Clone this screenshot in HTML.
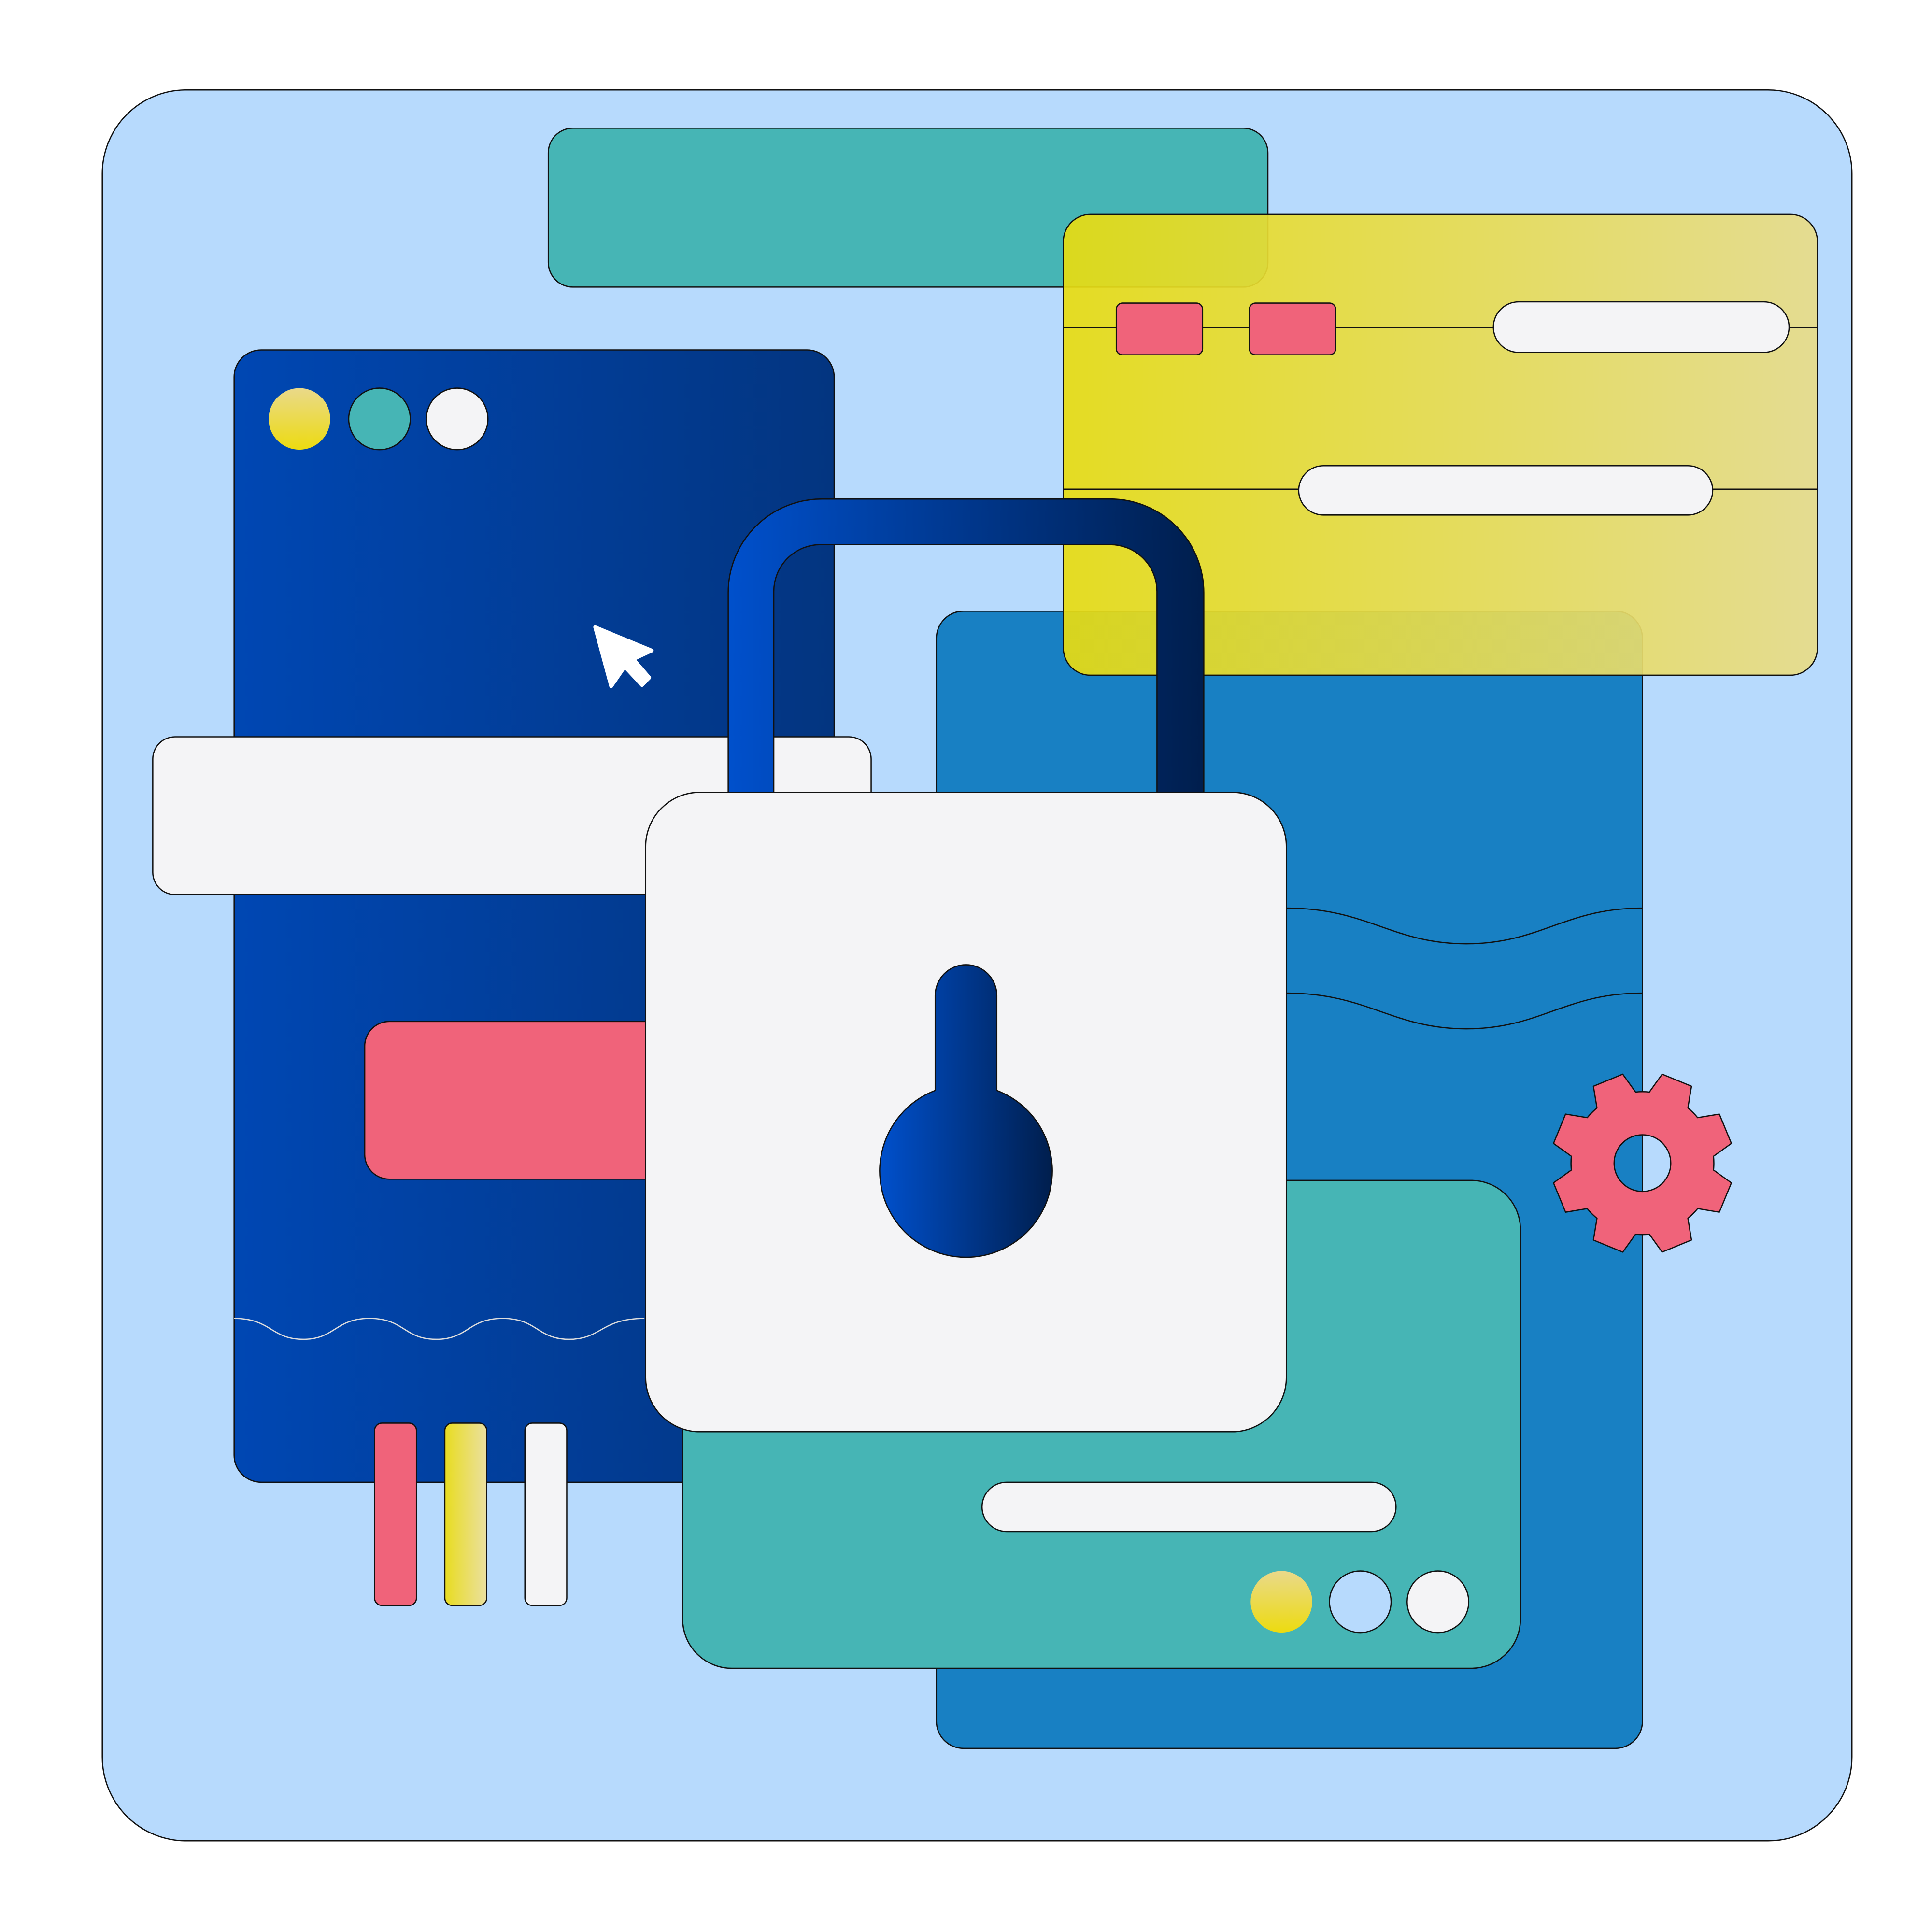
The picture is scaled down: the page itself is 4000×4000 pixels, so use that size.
<!DOCTYPE html>
<html><head><meta charset="utf-8"><style>html,body{margin:0;padding:0;background:#fff}svg{display:block}</style></head>
<body>
<svg width="4000" height="4000" viewBox="0 0 1568 1568" xmlns="http://www.w3.org/2000/svg">
<defs>
<linearGradient id="lb" x1="0" x2="1"><stop offset="0" stop-color="#0047b3"/><stop offset="1" stop-color="#033580"/></linearGradient>
<linearGradient id="yl" x1="0" x2="1"><stop offset="0" stop-color="#e8dc10" stop-opacity="0.92"/><stop offset="1" stop-color="#e8dc88" stop-opacity="0.92"/></linearGradient>
<linearGradient id="sh" x1="0" x2="1"><stop offset="0" stop-color="#0050cc"/><stop offset="1" stop-color="#001e4d"/></linearGradient>
<linearGradient id="yc" x1="0" x2="0" y1="0" y2="1"><stop offset="0" stop-color="#ead98a"/><stop offset="1" stop-color="#ecdb10"/></linearGradient>
<linearGradient id="yb" x1="0" x2="1"><stop offset="0" stop-color="#e8dc20"/><stop offset="1" stop-color="#ebe0a0"/></linearGradient>
</defs>
<g stroke="#111" stroke-width="1">
<rect x="83" y="73" width="1420" height="1421" rx="68" fill="#b7dafd"/>
<rect x="445" y="104" width="584" height="129" rx="20" fill="#46b5b5"/>
<rect x="190" y="284" width="487" height="919" rx="22" fill="url(#lb)"/>
<circle cx="243" cy="340" r="25" fill="url(#yc)" stroke="none"/>
<circle cx="308" cy="340" r="25" fill="#46b5b5"/>
<circle cx="371" cy="340" r="25" fill="#f4f4f6"/>
<path d="M483,509 L529,528 L514,535 L527,550 L521,556 L507,541 L496,557 Z" fill="#fff" stroke="#fff" stroke-width="3" stroke-linejoin="round"/>
<rect x="296" y="829" width="264" height="128" rx="20" fill="#f0637a"/>
<path d="M190,1070 C220,1070 220,1087 246,1087 C272,1087 272,1070 300,1070 C328,1070 328,1087 354,1087 C380,1087 380,1070 408,1070 C436,1070 436,1087 462,1087 C488,1087 488,1070 523,1070" fill="none" stroke="#ddd"/>
<rect x="760" y="496" width="573" height="923" rx="22" fill="#1880c3"/>
<path d="M1044,737 C1110,737 1130,766 1190,766 C1250,766 1270,737 1333,737" fill="none"/>
<path d="M1044,806 C1110,806 1130,835 1190,835 C1250,835 1270,806 1333,806" fill="none"/>
<rect x="863" y="174" width="612" height="374" rx="22" fill="url(#yl)"/>
<line x1="863" y1="266" x2="1475" y2="266"/>
<line x1="863" y1="397" x2="1475" y2="397"/>
<rect x="906" y="246" width="70" height="42" rx="5" fill="#f0637a"/>
<rect x="1014" y="246" width="70" height="42" rx="5" fill="#f0637a"/>
<rect x="1212" y="245" width="240" height="41" rx="20.5" fill="#f4f4f6"/>
<rect x="1054" y="378" width="336" height="40" rx="20" fill="#f4f4f6"/>
<rect x="124" y="598" width="583" height="128" rx="18" fill="#f4f4f6"/>
<path d="M591,643 L591,481 A76,76 0 0 1 667,405 L901,405 A76,76 0 0 1 977,481 L977,643 L939,643 L939,480 A38,38 0 0 0 901,442 L666,442 A38,38 0 0 0 628,480 L628,643 Z" fill="url(#sh)"/>
<rect x="554" y="958" width="680" height="396" rx="40" fill="#46b5b5"/>
<rect x="797" y="1203" width="336" height="40" rx="20" fill="#f4f4f6"/>
<circle cx="1040" cy="1300" r="25" fill="url(#yc)" stroke="none"/>
<circle cx="1104" cy="1300" r="25" fill="#b7dafd"/>
<circle cx="1167" cy="1300" r="25" fill="#f4f4f6"/>
<rect x="304" y="1155" width="34" height="148" rx="6" fill="#f0637a"/>
<rect x="361" y="1155" width="34" height="148" rx="6" fill="url(#yb)"/>
<rect x="426" y="1155" width="34" height="148" rx="6" fill="#f4f4f6"/>
<rect x="524" y="643" width="520" height="519" rx="44" fill="#f4f4f6"/>
<path d="M759,885 L759,808 A25,25 0 0 1 809,808 L809,885 A70,70 0 1 1 759,885 Z" fill="url(#sh)"/>
<g transform="translate(1333,944)">
<path fill="#f0637a" fill-rule="evenodd" stroke-linejoin="round" d="M57.7,5.6 L72.2,16.0 L62.4,39.8 L44.8,36.9 A58,58 0 0 1 36.9,44.8 L39.8,62.4 L16.0,72.2 L5.6,57.7 A58,58 0 0 1 -5.6,57.7 L-16.0,72.2 L-39.8,62.4 L-36.9,44.8 A58,58 0 0 1 -44.8,36.9 L-62.4,39.8 L-72.2,16.0 L-57.7,5.6 A58,58 0 0 1 -57.7,-5.6 L-72.2,-16.0 L-62.4,-39.8 L-44.8,-36.9 A58,58 0 0 1 -36.9,-44.8 L-39.8,-62.4 L-16.0,-72.2 L-5.6,-57.7 A58,58 0 0 1 5.6,-57.7 L16.0,-72.2 L39.8,-62.4 L36.9,-44.8 A58,58 0 0 1 44.8,-36.9 L62.4,-39.8 L72.2,-16.0 L57.7,-5.6 A58,58 0 0 1 57.7,5.6 Z M23,0 A23,23 0 1 0 -23,0 A23,23 0 1 0 23,0 Z"/>
</g>
</g>
</svg>
</body></html>
